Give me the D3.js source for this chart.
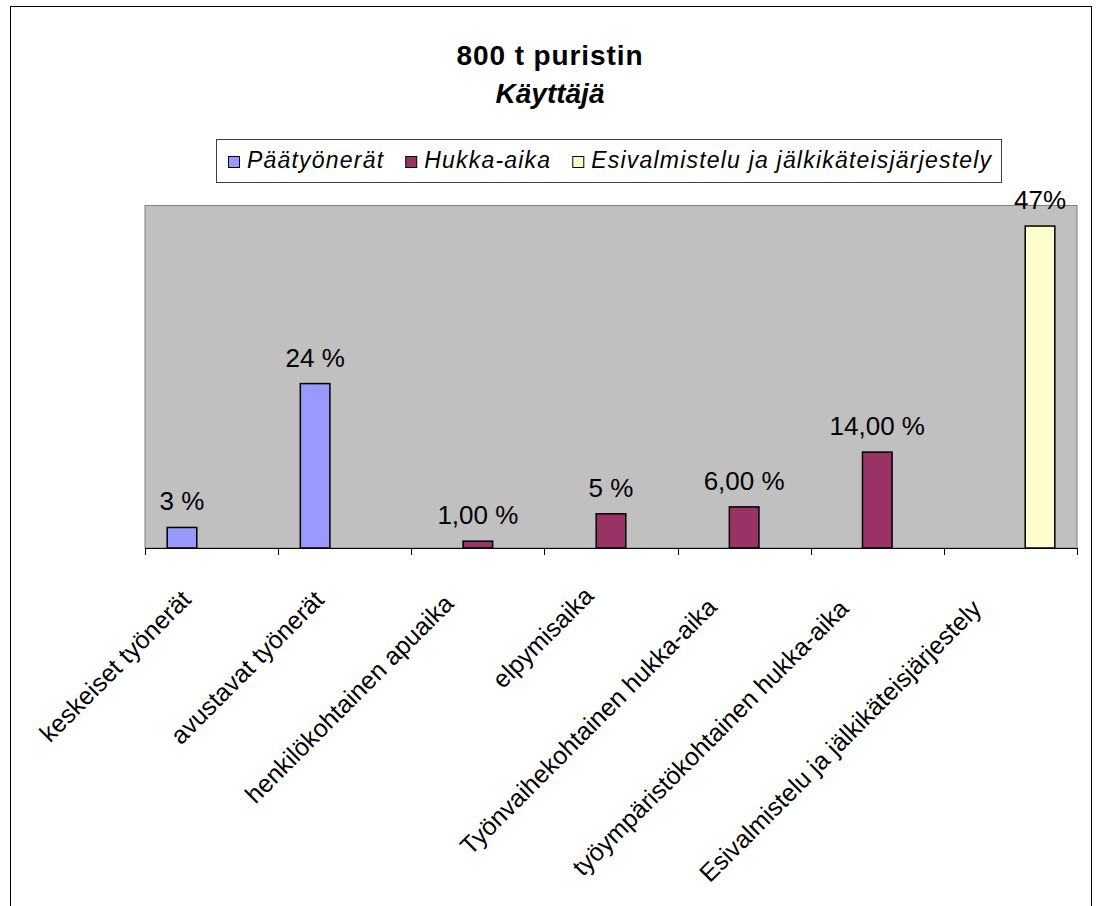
<!DOCTYPE html>
<html>
<head>
<meta charset="utf-8">
<script src="https://cdn.jsdelivr.net/npm/d3@7"></script>
<style>
  body { margin: 0; background: #fff; }
  svg text { font-family: "Liberation Sans", Arial, sans-serif; fill: #000; }
</style>
</head>
<body>
<svg id="chart" width="1100" height="906"></svg>
<script>
// Categories along the x axis
const categories = [
  "keskeiset työnerät",
  "avustavat työnerät",
  "henkilökohtainen apuaika",
  "elpymisaika",
  "Työnvaihekohtainen hukka-aika",
  "työympäristökohtainen hukka-aika",
  "Esivalmistelu ja jälkikäteisjärjestely"
];
// Series (legend entries) and the series each category belongs to
const seriesNames = ["Päätyönerät", "Hukka-aika", "Esivalmistelu ja jälkikäteisjärjestely"];
const seriesColors = ["#9999FF", "#993366", "#FFFFCC"];
const seriesOfCategory = [0, 0, 1, 1, 1, 1, 2];
// Share of time, percent
const values = [3, 24, 1, 5, 6, 14, 47];
const valueLabels = ["3 %", "24 %", "1,00 %", "5 %", "6,00 %", "14,00 %", "47%"];
const yDomain = [0, 50];

const titleLine1 = "800 t puristin";
const titleLine2 = "Käyttäjä";

const svg = d3.select("#chart");

// Chart frame
svg.append("rect")
  .attr("x", 10.5).attr("y", 6.5)
  .attr("width", 1081).attr("height", 920)
  .attr("fill", "#fff").attr("stroke", "#000").attr("stroke-width", 1);

// Plot area
const plot = { left: 145, right: 1077, top: 205.5, bottom: 548 };

const x = d3.scaleBand()
  .domain(categories)
  .range([plot.left, plot.right])
  .paddingInner(0).paddingOuter(0);

const xSeries = d3.scaleBand()
  .domain(d3.range(seriesNames.length))
  .range([0, x.bandwidth()])
  .paddingInner(0).paddingOuter(0.75);

const y = d3.scaleLinear().domain(yDomain).range([plot.bottom, plot.top]);

svg.append("rect")
  .attr("x", plot.left).attr("y", plot.top)
  .attr("width", plot.right - plot.left).attr("height", plot.bottom - plot.top)
  .attr("fill", "#C0C0C0").attr("stroke", "#808080").attr("stroke-width", 1);

// Bars
const data = categories.map((c, i) => ({
  cat: c, s: seriesOfCategory[i], v: values[i], label: valueLabels[i]
}));

svg.append("g").selectAll("rect")
  .data(data)
  .join("rect")
  .attr("x", d => x(d.cat) + xSeries(d.s))
  .attr("y", d => y(d.v))
  .attr("width", xSeries.bandwidth())
  .attr("height", d => y(0) - y(d.v))
  .attr("fill", d => seriesColors[d.s])
  .attr("stroke", "#000").attr("stroke-width", 1.5);

// Value labels above bars
svg.append("g").selectAll("text")
  .data(data)
  .join("text")
  .attr("x", d => x(d.cat) + xSeries(d.s) + xSeries.bandwidth() / 2)
  .attr("y", d => y(d.v) - 17)
  .attr("text-anchor", "middle")
  .style("font-size", "26px")
  .text(d => d.label);

// Category axis: line plus ticks on the category boundaries
const axisG = svg.append("g")
  .attr("transform", `translate(0,${plot.bottom})`)
  .call(d3.axisBottom(x).tickSize(0).tickFormat(""));
axisG.select(".domain").attr("stroke", "#000").attr("d", `M${plot.left},0.5H${plot.right}`);
axisG.selectAll(".tick").remove();
const boundaries = categories.map(c => x(c)).concat([plot.right]);
axisG.selectAll("line.boundary")
  .data(boundaries)
  .join("line")
  .attr("class", "boundary")
  .attr("x1", d => Math.round(d) + 0.5).attr("x2", d => Math.round(d) + 0.5)
  .attr("y1", 0).attr("y2", 7)
  .attr("stroke", "#000");

// Rotated category labels; longer labels sit slightly lower and further left
const catLabels = svg.append("g").selectAll("text")
  .data(categories)
  .join("text")
  .attr("text-anchor", "end")
  .style("font-size", "25px")
  .text(c => c);
catLabels.attr("transform", function (c) {
  const L = this.getComputedTextLength();
  const dx = -19 - 0.046 * (L - 200);
  const dy = 53 + 0.051 * (L - 200);
  return `translate(${x(c) + x.bandwidth() / 2 + dx},${plot.bottom + dy}) rotate(-45)`;
});

// Title
svg.append("text")
  .attr("x", 550).attr("y", 65)
  .attr("text-anchor", "middle")
  .style("font-size", "28px").style("font-weight", "bold").style("letter-spacing", "0.9px")
  .text(titleLine1);
svg.append("text")
  .attr("x", 550).attr("y", 103)
  .attr("text-anchor", "middle")
  .style("font-size", "28px").style("font-weight", "bold").style("font-style", "italic")
  .text(titleLine2);

// Legend
const legend = svg.append("g");
legend.append("rect")
  .attr("x", 216.5).attr("y", 139.5)
  .attr("width", 785).attr("height", 43)
  .attr("fill", "#fff").attr("stroke", "#404040").attr("stroke-width", 1);

let lx = 228;
seriesNames.forEach((name, i) => {
  legend.append("rect")
    .attr("x", lx + 0.5).attr("y", 156.5)
    .attr("width", 11).attr("height", 11)
    .attr("fill", seriesColors[i]).attr("stroke", "#000").attr("stroke-width", 1);
  const t = legend.append("text")
    .attr("x", lx + 19).attr("y", 168)
    .style("font-size", "23px").style("font-style", "italic")
    .style("letter-spacing", "1.2px")
    .text(name);
  lx += 19 + t.node().getComputedTextLength() + 21;
});
</script>
</body>
</html>
